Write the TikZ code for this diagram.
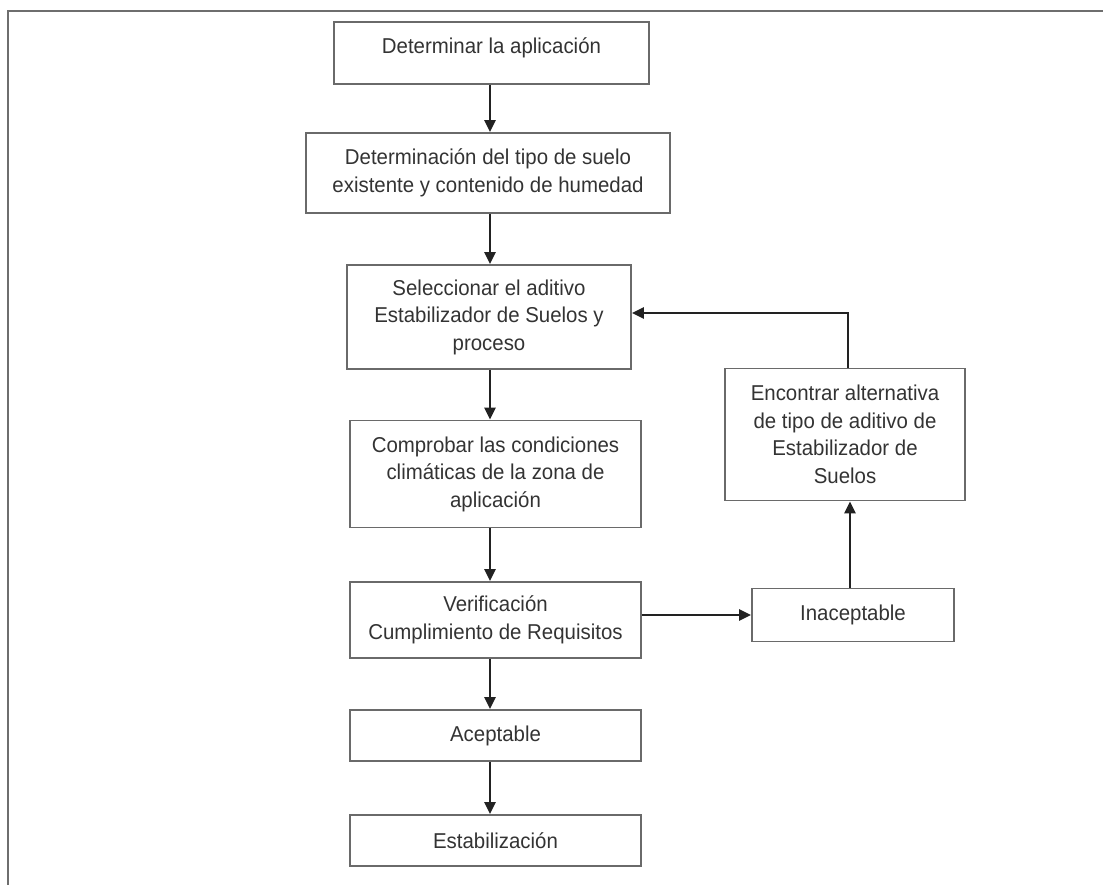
\documentclass[tikz,border=0pt]{standalone}
\usepackage{fontspec}
\setmainfont{Liberation Sans}[FakeStretch=0.95]
\usetikzlibrary{arrows.meta,calc}
\definecolor{boxline}{HTML}{6A6A6A}
\definecolor{txt}{HTML}{333333}
\definecolor{arrcol}{HTML}{222222}
\definecolor{framecol}{HTML}{6E6E6E}
\begin{document}
\begin{tikzpicture}[x=1pt,y=-1pt,
  stepbox/.style={draw=boxline,line width=1.8pt,rectangle,align=center,
    text=txt,inner sep=0pt,font=\fontsize{21.5}{27.5}\selectfont},
  arr/.style={draw=arrcol,line width=2.6pt,-{Triangle[length=12pt,width=11pt]}}]
\useasboundingbox (0,0) rectangle (1103,885);
\draw[framecol,line width=2pt] (8,885) -- (8,11) -- (1103,11);
\node[stepbox,minimum width=315pt,minimum height=62pt] (b1) at (491.5,53) {\smash{\raisebox{-1pt}{Determinar la aplicación}}};
\node[stepbox,minimum width=364pt,minimum height=80pt] (b2) at (488,173) {Determinación del tipo de suelo\\existente y contenido de humedad};
\node[stepbox,minimum width=284pt,minimum height=104pt] (b3) at (489,317) {Seleccionar el aditivo\\Estabilizador de Suelos y\\proceso};
\node[stepbox,minimum width=291pt,minimum height=107pt] (b4) at (495.5,474) {Comprobar las condiciones\\climáticas de la zona de\\aplicación};
\node[stepbox,minimum width=291pt,minimum height=76pt] (b5) at (495.5,620) {Verificación\\Cumplimiento de Requisitos};
\node[stepbox,minimum width=202pt,minimum height=53pt] (b6) at (853,615) {Inaceptable};
\node[stepbox,minimum width=240pt,minimum height=132pt] (b7) at (845,434.5) {Encontrar alternativa\\de tipo de aditivo de\\Estabilizador de\\Suelos};
\node[stepbox,minimum width=291pt,minimum height=51pt] (b8) at (495.5,735.5) {Aceptable};
\node[stepbox,minimum width=291pt,minimum height=51pt] (b9) at (495.5,840.5) {Estabilización};
\coordinate (cx) at (490,0);
\coordinate (rx) at (850,0);
\coordinate (fx) at (848,313);
\draw[arr] (b1.south -| cx) -- (b2.north -| cx);
\draw[arr] (b2.south -| cx) -- (b3.north -| cx);
\draw[arr] (b3.south -| cx) -- (b4.north -| cx);
\draw[arr] (b4.south -| cx) -- (b5.north -| cx);
\draw[arr] (b5.south -| cx) -- (b8.north -| cx);
\draw[arr] (b8.south -| cx) -- (b9.north -| cx);
\draw[arr] (b5.east |- b6) -- (b6.west);
\draw[arr] (b6.north -| rx) -- (b7.south -| rx);
\draw[arr] (b7.north -| fx) |- (b3.east |- fx);
\end{tikzpicture}
\end{document}
